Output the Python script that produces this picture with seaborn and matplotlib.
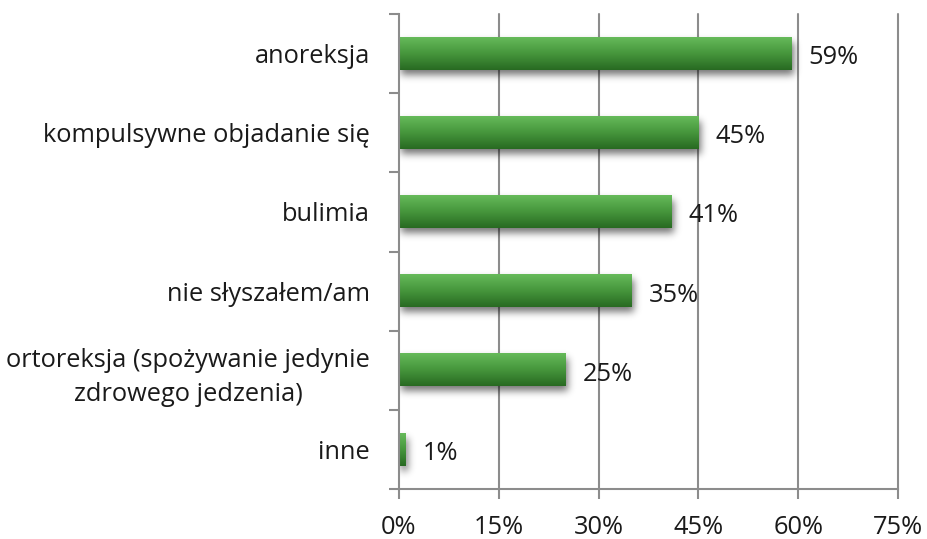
import numpy as np
import pandas as pd
import seaborn as sns
import matplotlib.pyplot as plt
from matplotlib.ticker import FixedLocator

categories = [
    "anoreksja",
    "kompulsywne objadanie się",
    "bulimia",
    "nie słyszałem/am",
    "ortoreksja (spożywanie jedynie\nzdrowego jedzenia)",
    "inne",
]
values = [59, 45, 41, 35, 25, 1]
x_ticks = [0, 15, 30, 45, 60, 75]
x_tick_labels = ["0%", "15%", "30%", "45%", "60%", "75%"]

sns.set_theme(style="white")
plt.rcParams["font.family"] = ["Open Sans", "DejaVu Sans"]

W, H = 928, 539
fig = plt.figure(figsize=(W / 100, H / 100), dpi=100)
left, right, top, bottom = 399, 898, 14, 489
ax = fig.add_axes([left / W, 1 - bottom / H, (right - left) / W, (bottom - top) / H])

df = pd.DataFrame({"category": categories, "value": values})
sns.barplot(data=df, x="value", y="category", orient="h", width=0.41,
            color="#4a9a3c", ax=ax, zorder=3)

ax.set_xlim(0, 75)
ax.set_ylim(len(categories) - 0.5, -0.5)

grid_col = "#8c8c8c"
fs = 18.3
# pixel sizes in data units
px_x = 75 / (right - left)
px_y = len(categories) / (bottom - top)

# vertical gradient for bars (light top, dark bottom)
top_c = np.array([102, 186, 90]) / 255
mid_c = np.array([70, 150, 60]) / 255
bot_c = np.array([40, 106, 34]) / 255
t = np.linspace(0, 1, 64)[:, None]
grad = np.where(t < 0.5,
                top_c[None, :] * (1 - 2 * t) + mid_c[None, :] * (2 * t),
                mid_c[None, :] * (2 - 2 * t) + bot_c[None, :] * (2 * t - 1))
grad = grad[:, None, :]


def gauss_blur(img, sigma):
    r = int(3 * sigma)
    k = np.exp(-0.5 * (np.arange(-r, r + 1) / sigma) ** 2)
    k /= k.sum()
    img = np.apply_along_axis(lambda m: np.convolve(m, k, mode="same"), 0, img)
    img = np.apply_along_axis(lambda m: np.convolve(m, k, mode="same"), 1, img)
    return img


for p in ax.patches:
    x0, y0 = p.get_x(), p.get_y()
    w, h = p.get_width(), p.get_height()
    # soft drop shadow as a blurred mask
    pad = 18
    wpx = max(int(round(w / px_x)), 1)
    hpx = int(round(h / px_y))
    mask = np.zeros((hpx + 2 * pad, wpx + 2 * pad))
    dx, dy = 2, 5
    mask[pad + dy:pad + dy + hpx, pad + dx:pad + dx + wpx] = 1.0
    mask = gauss_blur(mask, 3.8)
    shadow = np.zeros(mask.shape + (4,))
    shadow[..., 3] = mask * 0.55
    ax.imshow(shadow, extent=(x0 - pad * px_x, x0 + w + pad * px_x,
                              y0 + h + pad * px_y, y0 - pad * px_y),
              aspect="auto", interpolation="bilinear", zorder=2)
    p.set_visible(False)
    ax.imshow(grad, extent=(x0, x0 + w, y0 + h, y0), aspect="auto",
              interpolation="bilinear", zorder=3)

ax.set_xlim(0, 75)
ax.set_ylim(len(categories) - 0.5, -0.5)

# value labels
for i, v in enumerate(values):
    ax.text(v + 17 * px_x, i + 4 * px_y, f"{v}%", va="center", ha="left",
            fontsize=fs, color="#1a1a1a", zorder=4)

# gridlines
for xt in x_ticks[1:]:
    ax.axvline(xt, color=grid_col, lw=1.5, zorder=1, clip_on=False)

ax.set_xticks(x_ticks)
ax.set_xticklabels(x_tick_labels, fontsize=fs, color="#1a1a1a")
ax.set_yticks(range(len(categories)))
ax.set_yticklabels(categories, fontsize=fs, color="#1a1a1a",
                   multialignment="center", linespacing=1.45)
ax.yaxis.set_minor_locator(FixedLocator(np.arange(-0.5, len(categories), 1.0)))
ax.tick_params(axis="y", which="major", length=0, pad=21)
ax.tick_params(axis="y", which="minor", length=7.5, width=1.5, color=grid_col,
               direction="out", left=True)
ax.tick_params(axis="x", which="major", length=7.5, width=1.5, color=grid_col,
               direction="out", bottom=True, pad=11)
ax.set_xlabel("")
ax.set_ylabel("")

for s in ["top", "right"]:
    ax.spines[s].set_visible(False)
for s in ["left", "bottom"]:
    ax.spines[s].set_color(grid_col)
    ax.spines[s].set_linewidth(1.5)
    ax.spines[s].set_zorder(5)

fig.savefig("out.png", dpi=100, facecolor="white")
